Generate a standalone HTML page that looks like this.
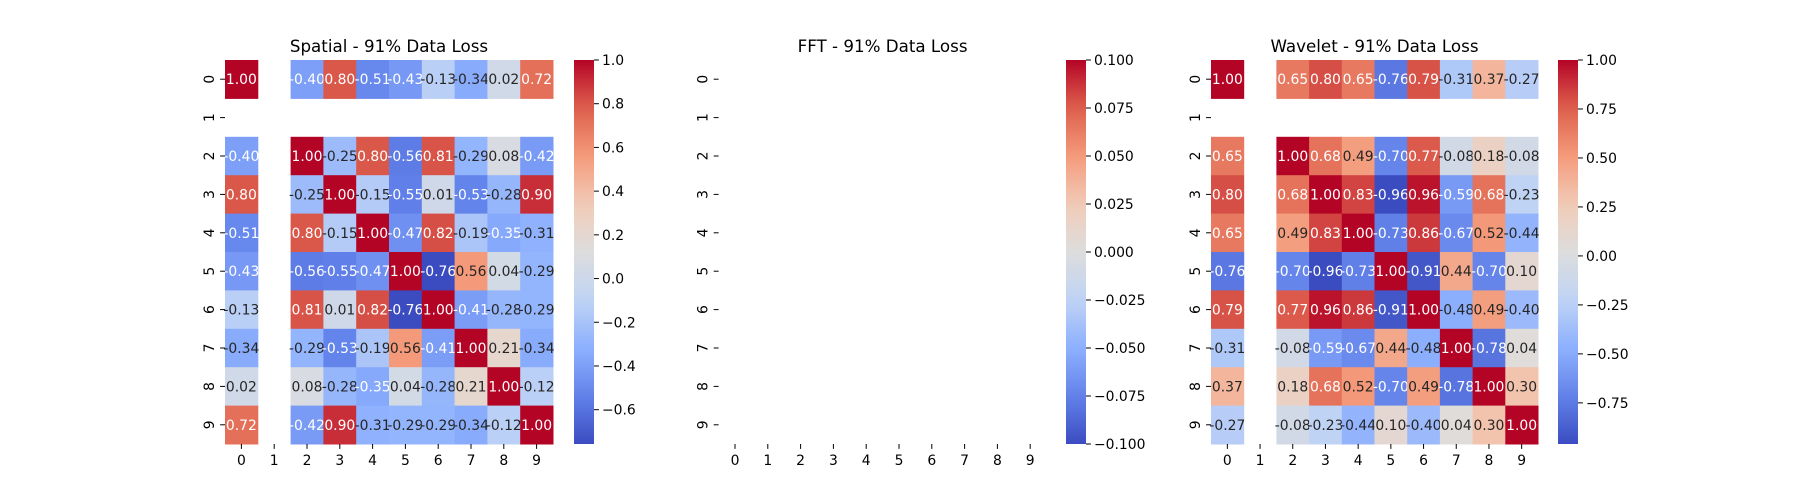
<!DOCTYPE html>
<html><head><meta charset="utf-8"><style>
html,body{margin:0;padding:0;background:#fff;}
svg{display:block;font-family:"DejaVu Sans","Liberation Sans",sans-serif;}
</style></head><body>
<svg id="fig" width="1800" height="500" viewBox="0 0 1800 500" xmlns="http://www.w3.org/2000/svg"></svg>
<script>
const labels = ['0','1','2','3','4','5','6','7','8','9'];
const N = null;
const spatialValues = [
 [1.00,N,-0.40,0.80,-0.51,-0.43,-0.13,-0.34,0.02,0.72],
 [N,N,N,N,N,N,N,N,N,N],
 [-0.40,N,1.00,-0.25,0.80,-0.56,0.81,-0.29,0.08,-0.42],
 [0.80,N,-0.25,1.00,-0.15,-0.55,0.01,-0.53,-0.28,0.90],
 [-0.51,N,0.80,-0.15,1.00,-0.47,0.82,-0.19,-0.35,-0.31],
 [-0.43,N,-0.56,-0.55,-0.47,1.00,-0.76,0.56,0.04,-0.29],
 [-0.13,N,0.81,0.01,0.82,-0.76,1.00,-0.41,-0.28,-0.29],
 [-0.34,N,-0.29,-0.53,-0.19,0.56,-0.41,1.00,0.21,-0.34],
 [0.02,N,0.08,-0.28,-0.35,0.04,-0.28,0.21,1.00,-0.12],
 [0.72,N,-0.42,0.90,-0.31,-0.29,-0.29,-0.34,-0.12,1.00]
];
const fftValues = [
 [N,N,N,N,N,N,N,N,N,N],[N,N,N,N,N,N,N,N,N,N],[N,N,N,N,N,N,N,N,N,N],[N,N,N,N,N,N,N,N,N,N],[N,N,N,N,N,N,N,N,N,N],
 [N,N,N,N,N,N,N,N,N,N],[N,N,N,N,N,N,N,N,N,N],[N,N,N,N,N,N,N,N,N,N],[N,N,N,N,N,N,N,N,N,N],[N,N,N,N,N,N,N,N,N,N]
];
const waveletValues = [
 [1.00,N,0.65,0.80,0.65,-0.76,0.79,-0.31,0.37,-0.27],
 [N,N,N,N,N,N,N,N,N,N],
 [0.65,N,1.00,0.68,0.49,-0.70,0.77,-0.08,0.18,-0.08],
 [0.80,N,0.68,1.00,0.83,-0.96,0.96,-0.59,0.68,-0.23],
 [0.65,N,0.49,0.83,1.00,-0.73,0.86,-0.67,0.52,-0.44],
 [-0.76,N,-0.70,-0.96,-0.73,1.00,-0.91,0.44,-0.70,0.10],
 [0.79,N,0.77,0.96,0.86,-0.91,1.00,-0.48,0.49,-0.40],
 [-0.31,N,-0.08,-0.59,-0.67,0.44,-0.48,1.00,-0.78,0.04],
 [0.37,N,0.18,0.68,0.52,-0.70,0.49,-0.78,1.00,0.30],
 [-0.27,N,-0.08,-0.23,-0.44,0.10,-0.40,0.04,0.30,1.00]
];
const spatialTicks = [1.0,0.8,0.6,0.4,0.2,0.0,-0.2,-0.4,-0.6];
const spatialTickLabels = ['1.0','0.8','0.6','0.4','0.2','0.0','\u22120.2','\u22120.4','\u22120.6'];
const fftTicks = [0.1,0.075,0.05,0.025,0,-0.025,-0.05,-0.075,-0.1];
const fftTickLabels = ['0.100','0.075','0.050','0.025','0.000','\u22120.025','\u22120.050','\u22120.075','\u22120.100'];
const waveletTicks = [1,0.75,0.5,0.25,0,-0.25,-0.5,-0.75];
const waveletTickLabels = ['1.00','0.75','0.50','0.25','0.00','\u22120.25','\u22120.50','\u22120.75'];

const stops=[[0,[59,76,192]],[0.125,[98,130,234]],[0.25,[141,176,254]],[0.375,[192,212,245]],[0.5,[221,221,221]],[0.625,[242,203,183]],[0.75,[244,154,123]],[0.875,[222,96,77]],[1,[180,4,38]]];
function cmap(t){t=Math.max(0,Math.min(1,t));for(let i=1;i<stops.length;i++){if(t<=stops[i][0]){const a=stops[i-1],b=stops[i];const f=(t-a[0])/(b[0]-a[0]);return a[1].map((v,k)=>Math.round(v+(b[1][k]-v)*f));}}return stops[8][1];}
function lum(c){const l=c.map(v=>{v/=255;return v<=0.03928?v/12.92:Math.pow((v+0.055)/1.055,2.4);});return 0.2126*l[0]+0.7152*l[1]+0.0722*l[2];}
const svg=document.getElementById('fig');
const NS='http://www.w3.org/2000/svg';
function el(tag,attrs,parent){const e=document.createElementNS(NS,tag);for(const k in attrs)e.setAttribute(k,attrs[k]);(parent||svg).appendChild(e);return e;}

const yTop=60,yBottom=444;
function panel(key,title,vals,left,right,cbLeft,vmin,vmax,ticks,tickLabels){
  const g=el('g',{});
  
  
  const cw=(right-left)/labels.length, ch=(yBottom-yTop)/labels.length;
  const xs=i=>left+i*cw, ys=i=>yTop+i*ch;
  const norm=v=>(v-vmin)/(vmax-vmin);
  vals.forEach((row,r)=>row.forEach((v,c)=>{
    if(v===null)return;
    const col=cmap(norm(v));
    const rect=el('rect',{x:xs(c),y:ys(r),width:cw+0.5,height:ch+0.5,fill:`rgb(${col})`},g);
    
    
    const t=el('text',{x:xs(c)+cw/2,y:ys(r)+ch/2+5,'text-anchor':'middle','font-size':'13.9',fill:lum(col)<0.408?'#fff':'#262626'},g);
    
    
    t.textContent=v.toFixed(2);
  }));
  labels.forEach((l,i)=>{
    const x=xs(i)+cw/2;
    el('line',{x1:x,x2:x,y1:yBottom,y2:yBottom+4.9,stroke:'#000','stroke-width':1},g);
    const t=el('text',{x:x,y:yBottom+21,'text-anchor':'middle','font-size':'13.9',fill:'#000'},g);
    
    
    t.textContent=l;
    const y=ys(i)+ch/2;
    el('line',{x1:left-4.9,x2:left,y1:y,y2:y,stroke:'#000','stroke-width':1},g);
    const ty=el('text',{x:0,y:0,'text-anchor':'middle','font-size':'13.9',fill:'#000',transform:`translate(${left-11},${y}) rotate(-90)`},g);
    
    
    ty.textContent=l;
  });
  const tt=el('text',{x:(left+right)/2,y:52,'text-anchor':'middle','font-size':'16.7',fill:'#000'},g);
  
  
  tt.textContent=title;
  const gid='grad-'+key;
  const defs=el('defs',{},g);
  const lg=el('linearGradient',{id:gid,x1:0,y1:1,x2:0,y2:0},defs);
  for(let i=0;i<=20;i++){el('stop',{offset:i/20,'stop-color':`rgb(${cmap(i/20)})`},lg);}
  const cb=el('rect',{x:cbLeft,y:yTop,width:20,height:yBottom-yTop,fill:`url(#${gid})`},g);
  
  
  const cy=v=>yBottom-(v-vmin)/(vmax-vmin)*(yBottom-yTop);
  ticks.forEach((v,i)=>{
    const y=cy(v);
    el('line',{x1:cbLeft+20,x2:cbLeft+24.9,y1:y,y2:y,stroke:'#000','stroke-width':1},g);
    const t=el('text',{x:cbLeft+28,y:y+5,'font-size':'13.9',fill:'#000'},g);
    
    
    t.textContent=tickLabels[i];
  });
}
panel('spatial','Spatial - 91% Data Loss',spatialValues,225,553,574,-0.757,1.0,spatialTicks,spatialTickLabels);
panel('fft','FFT - 91% Data Loss',fftValues,718.6,1046.6,1066,-0.1,0.1,fftTicks,fftTickLabels);
panel('wavelet','Wavelet - 91% Data Loss',waveletValues,1211,1538,1558,-0.96,1.0,waveletTicks,waveletTickLabels);
</script>
</body></html>
